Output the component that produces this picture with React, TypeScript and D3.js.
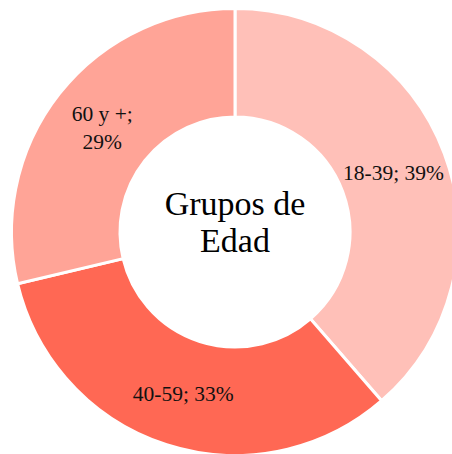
import * as d3 from 'd3';

const categories = ['18-39', '40-59', '60 y +'];
const values = [39, 33, 29];
const colors = ['#FFC0B8', '#FF6854', '#FFA497'];
const wrapLabel = [false, false, true];
const centerLines = ['Grupos de', 'Edad'];

const App = () => {
  const width = 452;
  const height = 454;
  const cx = 235;
  const cy = 232;
  const outerR = 223.5;
  const innerR = 115;
  const font = '"Liberation Serif", "Times New Roman", serif';

  const pie = d3.pie<number>().sort(null).value(d => d);
  const arcs = pie(values);
  const arc = d3.arc<d3.PieArcDatum<number>>().innerRadius(innerR).outerRadius(outerR);

  return (
    <div style={{ position: 'fixed', left: 0, top: 0 }}>
      <svg width={width} height={height} style={{ display: 'block' }}>
        <rect width={width} height={height} fill="#fff" />
        <g transform={`translate(${cx},${cy})`}>
          {arcs.map((a, i) => (
            <path key={i} d={arc(a) || ''} fill={colors[i]} stroke="#fff" strokeWidth={3} />
          ))}
          {arcs.map((a, i) => {
            const [x, y] = arc.centroid(a);
            const text = `${categories[i]}; ${values[i]}%`;
            const lines = wrapLabel[i] ? [`${categories[i]};`, `${values[i]}%`] : [text];
            const lh = 28;
            const y0 = y - ((lines.length - 1) * lh) / 2;
            return (
              <text key={i} x={x} textAnchor="middle" fontFamily={font} fontSize={21.5} fill="#111">
                {lines.map((l, j) => (
                  <tspan key={j} x={x} y={y0 + j * lh} dy="0.35em">{l}</tspan>
                ))}
              </text>
            );
          })}
          <text textAnchor="middle" fontFamily={font} fontSize={34} fill="#000">
            {centerLines.map((l, j) => (
              <tspan key={j} x={0} y={-17 + j * 37}>{l}</tspan>
            ))}
          </text>
        </g>
      </svg>
    </div>
  );
};

export default App;
